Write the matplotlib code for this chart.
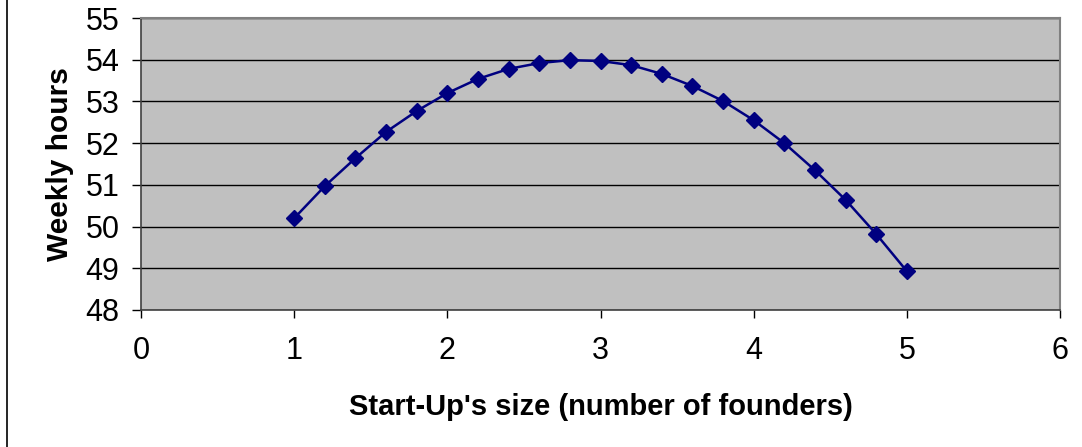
import matplotlib
matplotlib.use("Agg")
import matplotlib.pyplot as plt
from matplotlib.lines import Line2D

plt.rcParams['font.family'] = ['Liberation Sans', 'DejaVu Sans']

founders = [1.0, 1.2, 1.4, 1.6, 1.8, 2.0, 2.2, 2.4, 2.6, 2.8, 3.0,
            3.2, 3.4, 3.6, 3.8, 4.0, 4.2, 4.4, 4.6, 4.8, 5.0]
weekly_hours = [50.20, 50.97, 51.64, 52.27, 52.77, 53.20, 53.54, 53.78, 53.92, 53.99, 53.97,
                53.87, 53.66, 53.37, 53.01, 52.55, 52.00, 51.35, 50.64, 49.82, 48.93]
x_ticks = [0, 1, 2, 3, 4, 5, 6]
y_ticks = [48, 49, 50, 51, 52, 53, 54, 55]

fig = plt.figure(figsize=(10.82, 4.47), dpi=100)
ax = fig.add_axes([0.1303, 0.3065, 0.8494, 0.6532])
ax.set_facecolor('#C0C0C0')

ax.plot(founders, weekly_hours, color='#000080', linewidth=1.8, marker='D',
        markersize=8.5, markerfacecolor='#000080', markeredgecolor='#000080', zorder=3)

ax.set_xlim(0, 6)
ax.set_ylim(48, 55)
ax.set_xticks(x_ticks)
ax.set_yticks(y_ticks)
ax.yaxis.grid(True, color='black', linewidth=1)
ax.set_axisbelow(True)

for s in ['top', 'right']:
    ax.spines[s].set_color('#808080')
    ax.spines[s].set_linewidth(1.5)
for s in ['left', 'bottom']:
    ax.spines[s].set_color('#404040')
    ax.spines[s].set_linewidth(1.2)

ax.tick_params(axis='x', direction='out', length=6, width=1, labelsize=22, pad=13, colors='black')
ax.tick_params(axis='y', direction='out', length=6.5, width=1, labelsize=22, pad=9, colors='black')

ax.set_xlabel("Start-Up's size (number of founders)", fontsize=21, fontweight='bold', labelpad=19)
ax.set_ylabel("Weekly hours", fontsize=21.5, fontweight='bold', labelpad=8)

fig.add_artist(Line2D([7/1082, 7/1082], [0, 1], color='black', linewidth=1.2, transform=fig.transFigure))

fig.savefig('out.png', dpi=100)
